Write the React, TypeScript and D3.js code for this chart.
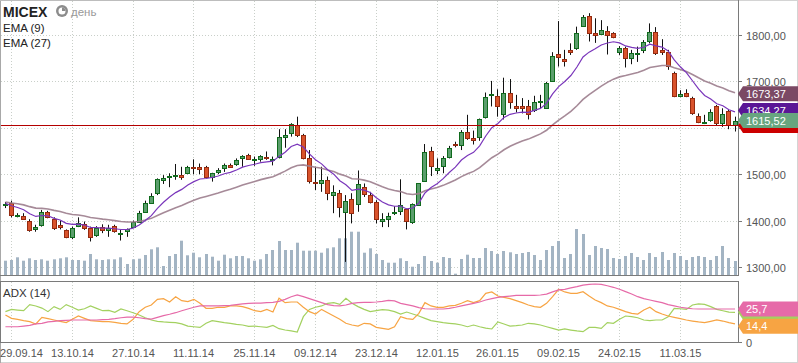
import React, { useEffect, useRef } from 'react';
import * as d3 from 'd3';

// MICEX daily candles, 26.09.14 - 24.03.15, with EMA(9), EMA(27), volume and ADX(14)

const opens = [
  1433, 1437, 1412, 1410, 1400, 1381, 1390, 1419, 1404, 1391,
  1380, 1364, 1388, 1393, 1383, 1369, 1387, 1380, 1388, 1373,
  1378, 1387, 1398, 1419, 1439, 1459, 1488, 1493, 1496, 1498,
  1503, 1515, 1515, 1515, 1493, 1504, 1513, 1519, 1521, 1535,
  1541, 1530, 1532, 1537, 1531, 1536, 1581, 1588, 1606, 1584,
  1534, 1483, 1480, 1487, 1456, 1459, 1419, 1446, 1436, 1472,
  1455, 1440, 1400, 1403, 1417, 1420, 1426, 1396, 1434, 1485,
  1550, 1510, 1518, 1536, 1566, 1564, 1591, 1577, 1580, 1623,
  1670, 1669, 1629, 1676, 1646, 1646, 1648, 1638, 1655, 1643,
  1701, 1759, 1749, 1768, 1771, 1820, 1842, 1804, 1803, 1809,
  1804, 1764, 1773, 1750, 1759, 1768, 1786, 1807, 1768, 1764,
  1719, 1669, 1674, 1664, 1625, 1612, 1617, 1646, 1611, 1636,
  1607,
];
const highs = [
  1440, 1443, 1416, 1416, 1403, 1391, 1423, 1421, 1407, 1400,
  1381, 1387, 1407, 1398, 1387, 1388, 1392, 1391, 1391, 1380,
  1383, 1400, 1421, 1443, 1459, 1491, 1498, 1502, 1522, 1516,
  1518, 1532, 1523, 1518, 1503, 1513, 1523, 1523, 1534, 1541,
  1544, 1538, 1541, 1549, 1538, 1597, 1597, 1610, 1624, 1587,
  1552, 1516, 1516, 1495, 1476, 1466, 1455, 1459, 1508, 1480,
  1462, 1444, 1416, 1417, 1431, 1489, 1426, 1437, 1481, 1565,
  1559, 1534, 1539, 1561, 1570, 1595, 1628, 1594, 1620, 1676,
  1701, 1683, 1708, 1705, 1671, 1664, 1660, 1669, 1671, 1699,
  1763, 1830, 1768, 1782, 1818, 1843, 1847, 1836, 1832, 1819,
  1806, 1776, 1775, 1768, 1775, 1789, 1825, 1817, 1791, 1768,
  1721, 1681, 1683, 1667, 1631, 1628, 1640, 1649, 1642, 1640,
  1624,
];
const lows = [
  1427, 1407, 1407, 1403, 1376, 1376, 1387, 1405, 1380, 1381,
  1362, 1360, 1386, 1380, 1355, 1365, 1373, 1365, 1374, 1357,
  1365, 1386, 1396, 1417, 1437, 1455, 1479, 1472, 1488, 1488,
  1500, 1500, 1500, 1493, 1484, 1500, 1505, 1515, 1518, 1516,
  1531, 1518, 1527, 1531, 1519, 1534, 1557, 1581, 1580, 1532,
  1480, 1466, 1462, 1444, 1416, 1407, 1311, 1394, 1419, 1451,
  1437, 1394, 1386, 1386, 1412, 1412, 1381, 1393, 1432, 1485,
  1496, 1500, 1502, 1534, 1558, 1552, 1574, 1564, 1572, 1620,
  1646, 1624, 1618, 1641, 1633, 1631, 1618, 1634, 1642, 1642,
  1699, 1732, 1732, 1757, 1768, 1818, 1786, 1783, 1800, 1758,
  1793, 1757, 1730, 1737, 1742, 1761, 1782, 1757, 1757, 1725,
  1666, 1666, 1666, 1628, 1610, 1608, 1613, 1604, 1602, 1597,
  1592,
];
const closes = [
  1436, 1412, 1413, 1404, 1380, 1386, 1419, 1408, 1383, 1387,
  1365, 1383, 1394, 1383, 1364, 1383, 1380, 1383, 1378, 1374,
  1381, 1396, 1416, 1439, 1453, 1490, 1492, 1496, 1498, 1495,
  1515, 1513, 1512, 1495, 1502, 1509, 1520, 1516, 1530, 1539,
  1533, 1532, 1539, 1534, 1533, 1580, 1584, 1608, 1585, 1534,
  1485, 1480, 1487, 1459, 1462, 1429, 1443, 1416, 1479, 1457,
  1441, 1403, 1403, 1410, 1419, 1433, 1400, 1435, 1480, 1547,
  1518, 1513, 1534, 1556, 1562, 1592, 1579, 1574, 1618, 1667,
  1672, 1646, 1674, 1656, 1643, 1642, 1630, 1656, 1658, 1696,
  1755, 1752, 1744, 1764, 1804, 1839, 1805, 1800, 1811, 1800,
  1796, 1773, 1750, 1761, 1762, 1784, 1807, 1762, 1763, 1733,
  1669, 1672, 1669, 1631, 1613, 1613, 1633, 1610, 1630, 1605,
  1615.52,
];
const volumes = [
  14.3, 15, 17.7, 14.3, 16.7, 15, 15.7, 14.3, 15.7, 16.7,
  17.7, 15, 15, 14.3, 21, 15.7, 15, 15.7, 15.7, 17.7,
  11, 15.7, 16.3, 20, 25.7, 27.7, 9, 19, 21, 34.3,
  19.7, 22.3, 17.7, 21, 18.3, 14.3, 20.3, 16.7, 19, 19,
  16.7, 14.3, 15.7, 21, 25, 34, 25, 25, 32.3, 24.3,
  24.3, 24.3, 22.3, 26.7, 27.7, 36.7, 36.7, 43.3, 43.3, 22.3,
  26.7, 21, 15, 12.3, 12.3, 16.7, 14, 8.3, 11, 19,
  14, 12.3, 18, 17, 1.3, 16, 20.3, 17, 17, 27,
  24, 21, 24, 22.7, 21, 22, 23, 20, 15, 25,
  29, 34, 17, 21, 46, 41, 20, 29, 27, 26,
  17, 16, 19, 22, 18, 15, 22, 18, 23, 15,
  22, 19, 15, 18, 19, 18, 15, 19, 29, 17,
  14,
];
const adx = [
  12.3, 12.3, 12.3, 12.8, 13.3, 14.4, 14.9, 15.9, 16.4, 16.9,
  17.1, 17.4, 17.4, 17.4, 17.4, 17.4, 17.6, 17.9, 18.4, 19.1,
  19.6, 19.6, 19.1, 18.4, 18.1, 19.4, 20.7, 21.7, 22.9, 24.4,
  25.7, 27.0, 28.0, 28.0, 28.0, 28.0, 28.2, 28.5, 29.0, 29.5,
  30.0, 30.2, 30.2, 30.5, 30.7, 31.5, 33.0, 35.0, 36.3, 35.0,
  33.5, 32.0, 30.5, 29.0, 28.2, 28.0, 28.7, 30.0, 30.5, 30.7,
  30.7, 31.0, 31.5, 32.2, 31.8, 30.0, 29.0, 28.0, 26.7, 25.9,
  25.7, 25.7, 25.7, 26.2, 27.0, 28.0, 29.0, 30.0, 31.0, 32.5,
  33.5, 34.5, 35.0, 35.5, 36.0, 36.0, 36.0, 36.0, 36.3, 37.0,
  38.6, 40.1, 40.6, 41.6, 42.6, 43.8, 44.3, 44.6, 44.3, 43.3,
  42.1, 40.6, 38.8, 37.0, 35.0, 33.5, 32.5, 31.5, 30.5, 29.0,
  28.0, 27.0, 26.4, 25.9, 25.7, 25.7, 25.7, 25.7, 25.7, 25.7,
  25.7,
];
const plusDi = [
  23.7, 25.4, 24.9, 24.4, 29.0, 28.0, 26.4, 23.7, 27.5, 25.4,
  29.0, 27.0, 24.9, 25.9, 28.0, 26.2, 24.4, 24.7, 23.2, 25.7,
  24.4, 22.9, 21.2, 19.1, 17.4, 16.4, 15.9, 15.6, 15.4, 14.4,
  12.8, 12.3, 11.8, 14.9, 16.9, 16.1, 15.4, 14.9, 14.1, 13.6,
  12.6, 12.8, 12.3, 11.8, 13.3, 10.8, 9.8, 9.1, 8.3, 19.9,
  25.4, 27.0, 28.0, 30.0, 30.5, 29.2, 33.8, 30.0, 27.5, 25.4,
  23.7, 24.4, 25.2, 24.9, 23.7, 21.9, 23.4, 21.9, 20.4, 18.6,
  16.9, 16.1, 15.4, 14.9, 14.4, 13.6, 12.3, 13.6, 12.3, 11.3,
  10.6, 15.9, 14.4, 12.8, 13.1, 13.6, 14.9, 14.4, 13.6, 12.3,
  11.1, 9.8, 10.6, 9.8, 9.1, 8.6, 11.8, 11.8, 11.1, 15.4,
  14.9, 17.9, 20.4, 19.9, 19.1, 17.4, 16.9, 17.4, 17.4, 19.9,
  26.2, 25.9, 25.4, 28.7, 29.5, 29.2, 27.5, 25.4, 24.4, 23.4,
  23.2,
];
const minusDi = [
  21.2, 18.6, 17.9, 16.9, 16.1, 14.4, 19.4, 18.4, 17.4, 16.4,
  15.4, 17.9, 20.4, 18.6, 16.9, 16.6, 16.1, 16.1, 15.6, 14.9,
  14.4, 17.9, 23.7, 27.0, 28.7, 33.0, 33.5, 31.0, 35.0, 32.0,
  31.3, 33.0, 30.0, 26.2, 26.2, 27.0, 27.0, 28.0, 28.0, 27.5,
  26.2, 24.4, 23.7, 25.4, 23.4, 33.8, 30.5, 31.0, 31.0, 27.0,
  23.7, 21.9, 25.4, 22.9, 20.4, 17.9, 14.9, 13.6, 12.8, 14.9,
  14.4, 11.8, 11.1, 10.3, 12.3, 19.9, 18.4, 17.9, 22.4, 30.5,
  28.0, 27.0, 27.0, 28.0, 28.5, 30.0, 32.0, 30.5, 32.0, 37.5,
  38.6, 35.5, 34.5, 33.5, 32.0, 30.5, 28.7, 27.5, 27.0, 30.0,
  35.0, 40.6, 38.6, 37.5, 37.5, 38.8, 35.5, 32.5, 30.5, 28.0,
  27.0, 25.4, 23.7, 22.4, 21.9, 24.9, 27.0, 23.7, 21.9, 20.4,
  19.4, 18.4, 17.4, 16.6, 15.9, 15.4, 16.4, 17.4, 16.6, 15.4,
  14.4,
];
const tickBars = [1, 11, 21, 31, 41, 51, 61, 71, 81, 91, 101, 111];
const tickLabels = [
  '29.09.14', '13.10.14', '27.10.14', '11.11.14', '25.11.14', '09.12.14',
  '23.12.14', '12.01.15', '26.01.15', '09.02.15', '24.02.15', '11.03.15',
];
const priceTicks = [1300, 1400, 1500, 1600, 1700, 1800];
const ema9Start = 1437;
const ema27Start = 1440;
const ema27Label = 1673.37;

const FONT = '"Liberation Sans", Arial, sans-serif';

const ema = (vals, n, start) => {
  const k = 2 / (n + 1);
  let prev = start;
  return vals.map((v, i) => {
    if (i > 0) prev = prev + k * (v - prev);
    return prev;
  });
};

const comma = (v, d) => v.toFixed(d).replace('.', ',');

const App = () => {
  const svgRef = useRef(null);

  useEffect(() => {
    const width = 798;
    const height = 363;
    const right = 738;
    const mainBottom = 275;
    const adxTop = 282;
    const adxBottom = 343;

    const svg = d3.select(svgRef.current);
    svg.selectAll('*').remove();

    const x = d3.scaleLinear().domain([0, closes.length - 1]).range([4.92, 734.52]);
    const y = d3.scaleLinear().domain([1300, 1800]).range([267, 35]);
    const yVol = d3.scaleLinear().domain([0, 50]).range([mainBottom, mainBottom - 50]);
    const yAdx = d3.scaleLinear().domain([0, 45.35]).range([adxBottom, adxBottom - 60]);
    const px = i => Math.round(x(i));

    const prevClose = closes[closes.length - 2];
    const lastClose = closes[closes.length - 1];

    svg.append('rect').attr('width', width).attr('height', height).attr('fill', '#fff');

    // grid
    const grid = svg.append('g').attr('stroke', '#c9cfc9').attr('stroke-dasharray', '1,2');
    tickBars.forEach(b => {
      grid.append('line').attr('x1', px(b) + 0.5).attr('x2', px(b) + 0.5).attr('y1', 1).attr('y2', mainBottom);
      grid.append('line').attr('x1', px(b) + 0.5).attr('x2', px(b) + 0.5).attr('y1', adxTop).attr('y2', adxBottom);
    });
    priceTicks.forEach(p => {
      const yy = Math.round(y(p)) + 0.5;
      grid.append('line').attr('x1', 1).attr('x2', right).attr('y1', yy).attr('y2', yy);
    });

    // volume
    svg.append('g').selectAll('rect').data(volumes).enter().append('rect')
      .attr('x', (d, i) => px(i) - 1)
      .attr('width', 3)
      .attr('y', d => yVol(d))
      .attr('height', d => mainBottom - yVol(d))
      .attr('fill', '#a3b4c3');

    const clip = svg.append('clipPath').attr('id', 'mainclip');
    clip.append('rect').attr('x', 1).attr('y', 1).attr('width', right - 1).attr('height', mainBottom - 1);

    // candles
    const candles = svg.append('g');
    closes.forEach((c, i) => {
      const o = opens[i];
      const up = c >= o;
      const cx = px(i);
      candles.append('line')
        .attr('x1', cx + 0.5).attr('x2', cx + 0.5)
        .attr('y1', y(highs[i])).attr('y2', y(lows[i]))
        .attr('stroke', '#111').attr('stroke-width', 1);
      const top = Math.round(y(Math.max(o, c)));
      const bot = Math.round(y(Math.min(o, c)));
      candles.append('rect')
        .attr('x', cx - 1.5).attr('width', 4)
        .attr('y', top + 0.5).attr('height', Math.max(1, bot - top))
        .attr('fill', up ? '#5b9e6c' : '#d9532c')
        .attr('stroke', up ? '#0f6a1c' : '#952b10')
        .attr('stroke-width', 1);
    });

    // EMA lines
    const e9 = ema(closes, 9, ema9Start);
    const e27 = ema(closes, 27, ema27Start);
    const line = d3.line().x((d, i) => x(i) + 0.5).y(d => y(d));
    const lines = svg.append('g').attr('clip-path', 'url(#mainclip)').attr('fill', 'none');
    lines.append('path').attr('d', line(e27)).attr('stroke', '#9c7d8d').attr('stroke-width', 1.6).attr('opacity', 0.9);
    lines.append('path').attr('d', line(e9)).attr('stroke', '#7a36bb').attr('stroke-width', 1.2);

    // previous close line
    svg.append('line')
      .attr('x1', 1).attr('x2', right + 4)
      .attr('y1', Math.round(y(prevClose)) + 0.5).attr('y2', Math.round(y(prevClose)) + 0.5)
      .attr('stroke', '#b40000').attr('stroke-width', 1);

    // ADX lines
    const adxLine = d3.line().x((d, i) => x(i) + 0.5).y(d => yAdx(d));
    const adxG = svg.append('g').attr('fill', 'none').attr('stroke-width', 1.2);
    adxG.append('path').attr('d', adxLine(plusDi)).attr('stroke', '#a3d160');
    adxG.append('path').attr('d', adxLine(minusDi)).attr('stroke', '#f7a443');
    adxG.append('path').attr('d', adxLine(adx)).attr('stroke', '#e66aa8');

    // frames
    const frame = svg.append('g').attr('fill', 'none');
    frame.append('rect').attr('x', 0.5).attr('y', 0.5).attr('width', width - 1).attr('height', height - 1).attr('stroke', '#d4d4d4');
    frame.append('line').attr('x1', 0.5).attr('x2', 0.5).attr('y1', 0).attr('y2', height).attr('stroke', '#a8a8a8');
    frame.append('line').attr('x1', 0).attr('x2', right).attr('y1', 0.5).attr('y2', 0.5).attr('stroke', '#bdbdbd');
    frame.append('line').attr('x1', 0).attr('x2', right + 0.5).attr('y1', mainBottom + 0.5).attr('y2', mainBottom + 0.5).attr('stroke', '#7a7a7a');
    frame.append('line').attr('x1', right + 0.5).attr('x2', right + 0.5).attr('y1', 0).attr('y2', mainBottom + 1).attr('stroke', '#7a7a7a');
    frame.append('rect').attr('x', 0.5).attr('y', adxTop - 0.5).attr('width', right).attr('height', adxBottom - adxTop).attr('stroke', '#7a7a7a');

    // right axis (labels sitting right under the close tag are covered in the original)
    const axis = svg.append('g').attr('font-family', FONT).attr('font-size', 11).attr('fill', '#555');
    priceTicks.forEach(p => {
      const yy = Math.round(y(p)) + 0.5;
      axis.append('line').attr('x1', right).attr('x2', right + 4).attr('y1', yy).attr('y2', yy).attr('stroke', '#7a7a7a');
      if (Math.abs(yy - y(lastClose)) > 10) {
        axis.append('text').attr('x', right + 8).attr('y', yy + 4).text(comma(p, 2));
      }
    });
    axis.append('line').attr('x1', right).attr('x2', right + 4).attr('y1', adxBottom - 0.5).attr('y2', adxBottom - 0.5).attr('stroke', '#7a7a7a');
    axis.append('text').attr('x', right + 8).attr('y', adxBottom + 4).text('0');

    // date labels
    const dates = svg.append('g').attr('font-family', FONT).attr('font-size', 11).attr('fill', '#555').attr('text-anchor', 'middle');
    tickBars.forEach((b, k) => {
      dates.append('text').attr('x', Math.max(px(b) + 0.5, 21.5)).attr('y', 357).text(tickLabels[k]);
    });

    // value tags (hidden ones get no text)
    const tag = (yc, color, text) => {
      const g = svg.append('g');
      g.append('path')
        .attr('d', `M${right},${yc} L${right + 5},${yc - 7.5} L${width},${yc - 7.5} L${width},${yc + 7.5} L${right + 5},${yc + 7.5} Z`)
        .attr('fill', color);
      if (text) {
        g.append('text').attr('x', right + 8).attr('y', yc + 4)
          .attr('font-family', FONT).attr('font-size', 11).attr('fill', '#fff').text(text);
      }
    };
    const e9Last = e9[e9.length - 1];
    tag(y(ema27Label), '#7b4964', comma(ema27Label, 2));
    tag(Math.min(y(e9Last), y(lastClose) - 10), '#5a1696', comma(e9Last, 2));
    tag(y(prevClose), '#cc0000', null);
    tag(y(lastClose), '#67a57f', comma(lastClose, 2));

    const gY = yAdx(plusDi[plusDi.length - 1]);
    const oY = Math.max(yAdx(minusDi[minusDi.length - 1]), gY + 14);
    tag(gY, '#a3d160', null);
    tag(oY, '#f7a443', comma(minusDi[minusDi.length - 1], 1));
    tag(yAdx(adx[adx.length - 1]), '#e66aa8', comma(adx[adx.length - 1], 1));

    // legend
    const legend = svg.append('g').attr('font-family', FONT).attr('fill', '#222');
    legend.append('text').attr('x', 3).attr('y', 17).attr('font-size', 14).attr('font-weight', 'bold').text('MICEX');
    legend.append('circle').attr('cx', 62).attr('cy', 11).attr('r', 6).attr('fill', '#8c8c8c');
    legend.append('circle').attr('cx', 62).attr('cy', 11).attr('r', 3.5).attr('fill', '#fff');
    legend.append('path').attr('d', 'M62,11 L62,7.5 A3.5,3.5 0 0,1 65.5,11 Z').attr('fill', '#8c8c8c');
    legend.append('text').attr('x', 71).attr('y', 16).attr('font-size', 11.5).attr('fill', '#999').text('день');
    legend.append('text').attr('x', 3).attr('y', 31.5).attr('font-size', 11.5).text('EMA (9)');
    legend.append('text').attr('x', 3).attr('y', 46.5).attr('font-size', 11.5).text('EMA (27)');
    svg.append('text').attr('x', 3).attr('y', 297).attr('font-family', FONT).attr('font-size', 11.5).attr('fill', '#333').text('ADX (14)');
  }, []);

  return (
    <svg
      ref={svgRef}
      width="798"
      height="363"
      style={{ position: 'absolute', left: 0, top: 0, display: 'block' }}
    />
  );
};

export default App;
